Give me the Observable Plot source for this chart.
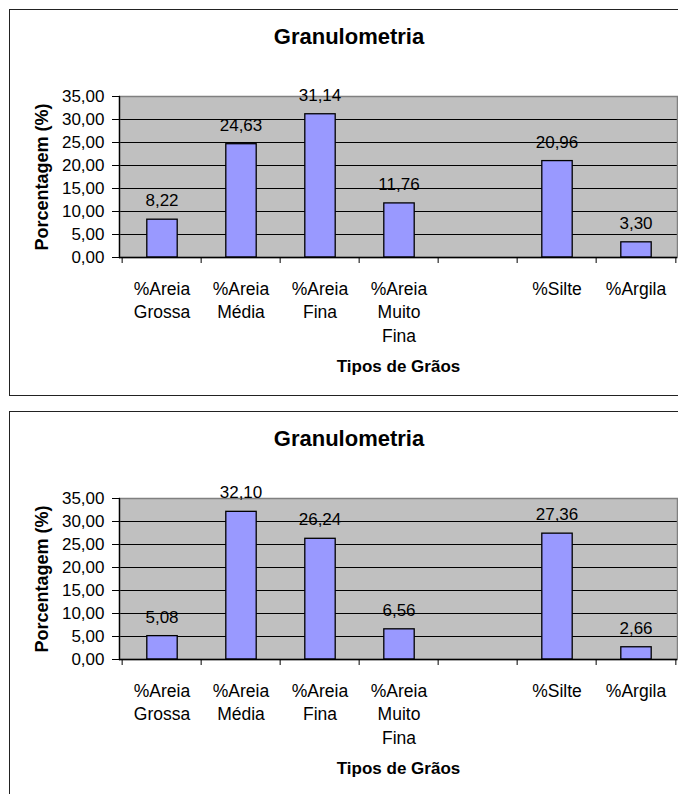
<!DOCTYPE html>
<html>
<head>
<meta charset="utf-8">
<script src="https://cdn.jsdelivr.net/npm/d3@7"></script>
<script src="https://cdn.jsdelivr.net/npm/@observablehq/plot@0.6"></script>
<style>
  html, body { margin: 0; padding: 0; width: 678px; height: 794px; overflow: hidden; background: #fff; }
  .panel { position: absolute; left: 0; width: 678px; height: 400px; }
  .panel svg { position: absolute; left: 0; top: 0; }
  .box { position: absolute; left: 9px; top: 9px; width: 678px; height: 385px; border: 1.5px solid #222; pointer-events: none; }
  .title { position: absolute; left: 0; right: 0; top: 16px; text-align: center;
           font: bold 22px "Liberation Sans", Arial, sans-serif; line-height: 22px; color: #000; }
</style>
</head>
<body>
<div class="panel" id="p1" style="top:0px"></div>
<div class="panel" id="p2" style="top:402px"></div>
<script>
// Grain-size classes (one empty slot between very fine sand and silt)
const categories = ["%Areia Grossa", "%Areia Média", "%Areia Fina", "%Areia Muito Fina", "", "%Silte", "%Argila"];
const tickLabels = ["%Areia\nGrossa", "%Areia\nMédia", "%Areia\nFina", "%Areia\nMuito\nFina", "", "%Silte", "%Argila"];

// Percentages per class for each sample
const valuesSample1 = [8.22, 24.63, 31.14, 11.76, null, 20.96, 3.30];
const valuesSample2 = [5.08, 32.10, 26.24, 6.56, null, 27.36, 2.66];

const yTicks = [0, 5, 10, 15, 20, 25, 30, 35];

const chartTitle = "Granulometria";
const yLabel = "Porcentagem (%)";
const xLabel = "Tipos de Grãos";

const fmt = v => v.toFixed(2).replace(".", ",");

function chart(values) {
  const rows = categories
    .map((cat, i) => ({cat, value: values[i]}))
    .filter(d => d.value != null);
  const W = 678, H = 400, mL = 119, mR = 1;
  const bw = (W - mL - mR) / categories.length;
  const font = "'Liberation Sans', Arial, sans-serif";
  return Plot.plot({
    width: W,
    height: H,
    marginLeft: mL,
    marginRight: mR,
    marginTop: 96,
    marginBottom: 143,
    style: {fontFamily: font, background: "transparent", color: "black", overflow: "visible"},
    x: {domain: categories, padding: 0, axis: null, label: null},
    y: {domain: [0, 35], axis: null, label: null},
    marks: [
      Plot.frame({fill: "#C0C0C0"}),
      Plot.ruleY(yTicks.filter(t => t > 0 && t < 35), {stroke: "black", strokeWidth: 1}),
      Plot.frame({stroke: "#808080", strokeWidth: 1.5}),
      Plot.barY(rows, {x: "cat", y: "value", fill: "#9999FF", stroke: "black", strokeWidth: 1.3,
                       insetLeft: 24.8, insetRight: 23.8}),
      Plot.text(rows, {x: "cat", y: "value", text: d => fmt(d.value), dy: -19, fontSize: 17, fill: "black"}),
      Plot.axisY({ticks: yTicks, tickFormat: fmt, tickSize: 7, tickPadding: 8, fontSize: 17, label: null}),
      Plot.ruleY([0], {stroke: "black", strokeWidth: 1.3}),
      Plot.frame({anchor: "left", stroke: "black", strokeWidth: 1.3}),
      // tick marks sit on the category boundaries
      Plot.axisX({tickSize: 6, tickFormat: () => "", dx: -bw / 2, label: null}),
      Plot.axisX({ticks: [categories[categories.length - 1]], tickSize: 6, tickFormat: () => "", dx: bw / 2, label: null}),
      Plot.axisX({tickSize: 0, tickPadding: 21, fontSize: 17.5, lineHeight: 1.33, label: null,
                  tickFormat: c => tickLabels[categories.indexOf(c)]}),
      Plot.text([yLabel], {frameAnchor: "left", textAnchor: "middle", lineAnchor: "middle", rotate: -90, dx: -77,
                           fontWeight: "bold", fontSize: 18, fill: "black"}),
      Plot.text([xLabel], {frameAnchor: "bottom", textAnchor: "middle", lineAnchor: "middle", dy: 109,
                           fontWeight: "bold", fontSize: 17, fill: "black"})
    ]
  });
}

function panel(id, values) {
  const el = document.getElementById(id);
  el.appendChild(chart(values));
  const box = document.createElement("div");
  box.className = "box";
  const t = document.createElement("div");
  t.className = "title";
  t.textContent = chartTitle;
  box.appendChild(t);
  el.appendChild(box);
}

panel("p1", valuesSample1);
panel("p2", valuesSample2);
</script>
</body>
</html>
